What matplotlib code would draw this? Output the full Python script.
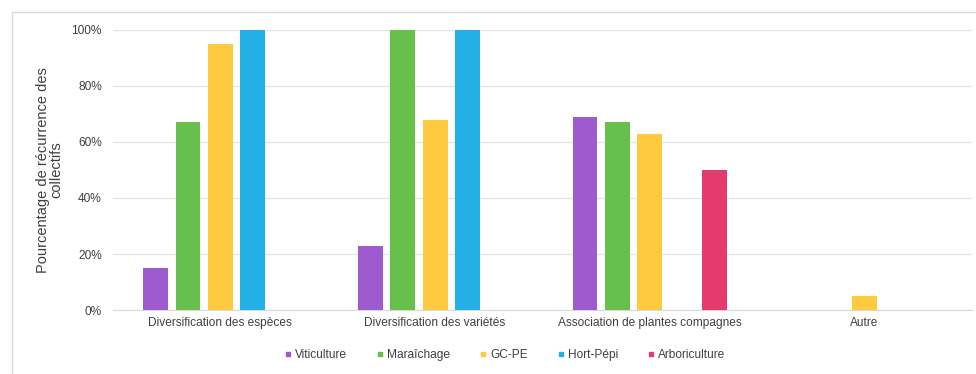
import matplotlib.pyplot as plt
from matplotlib.lines import Line2D
from matplotlib.patches import Rectangle
from matplotlib.ticker import PercentFormatter
import numpy as np

plt.rcParams["font.family"] = ["Liberation Sans", "DejaVu Sans"]

categories = [
    "Diversification des espèces",
    "Diversification des variétés",
    "Association de plantes compagnes",
    "Autre",
]
filieres = ["Viticulture", "Maraîchage", "GC-PE", "Hort-Pépi", "Arboriculture"]

# part des collectifs (en %) par filière, dans l'ordre des catégories
viticulture = [15, 23, 69, 0]
maraichage = [67, 100, 67, 0]
gc_pe = [95, 68, 63, 5]
hort_pepi = [100, 100, 0, 0]
arboriculture = [0, 0, 50, 0]

series = [viticulture, maraichage, gc_pe, hort_pepi, arboriculture]
colors = ["#9E5BD0", "#68C04C", "#FFCA40", "#22B0E6", "#E43A6E"]
text_color = "#404040"

fig = plt.figure(figsize=(9.76, 3.74), dpi=100)
ax = fig.add_axes([0.1158, 0.171, 0.88, 0.749])

x = np.arange(len(categories))
slot = 0.151
width = 0.116
for i, (values, color) in enumerate(zip(series, colors)):
    ax.bar(x + (i - 2) * slot, values, width=width, color=color, zorder=3)

ax.set_xlim(-0.5, len(categories) - 0.5)
ax.set_ylim(0, 100)
ax.set_yticks(range(0, 101, 20))
ax.yaxis.set_major_formatter(PercentFormatter(decimals=0))
ax.set_xticks(x)
ax.set_xticklabels(categories, fontsize=8.6)
ax.tick_params(axis="both", length=0, colors=text_color)
ax.tick_params(axis="y", labelsize=8.6, pad=8)
ax.tick_params(axis="x", pad=5)
ax.grid(axis="y", color="#E4E4E4", linewidth=0.9, zorder=0)
for side in ["top", "right", "left"]:
    ax.spines[side].set_visible(False)
ax.spines["bottom"].set_color("#D9D9D9")

ax.set_ylabel("Pourcentage de récurrence des\ncollectifs", fontsize=10.5,
              color=text_color, labelpad=6, linespacing=0.95)

handles = [Line2D([], [], marker="s", linestyle="none", markersize=3.5,
                  color=c) for c in colors]
fig.legend(handles, filieres, loc="center", bbox_to_anchor=(0.517, 0.051),
           ncol=5, frameon=False, fontsize=8.6, handlelength=0.7,
           handletextpad=0.25, columnspacing=2.4, labelcolor=text_color)

# cadre du graphique (bord haut et gauche visibles)
fig.patches.append(Rectangle((12 / 976, -0.05), 1.1, 1 - 12 / 374 + 0.05,
                             transform=fig.transFigure, fill=False,
                             edgecolor="#D9D9D9", linewidth=1.0))

fig.savefig("out.png", dpi=100)
